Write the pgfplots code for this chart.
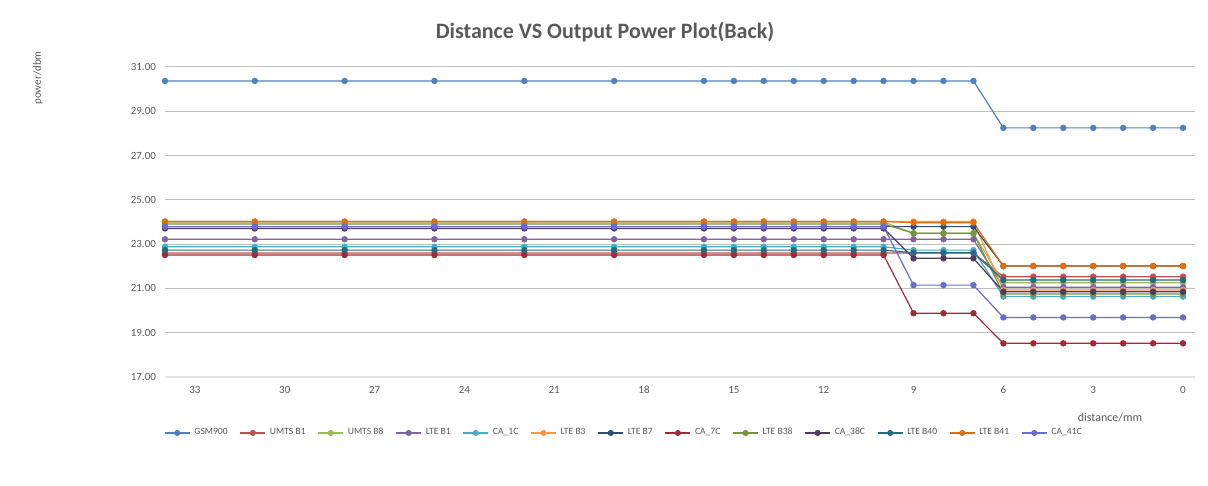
\documentclass[border=0pt]{standalone}
\usepackage{fontspec}
\setmainfont{Carlito}
\usepackage{pgfplots}
\usepackage{pgfplotstable}
\pgfplotsset{compat=1.18}

\definecolor{c1}{HTML}{4F81BD}
\definecolor{c2}{HTML}{C0504D}
\definecolor{c3}{HTML}{9BBB59}
\definecolor{c4}{HTML}{8064A2}
\definecolor{c5}{HTML}{4BACC6}
\definecolor{c6}{HTML}{F79646}
\definecolor{c7}{HTML}{2C4D75}
\definecolor{c8}{HTML}{A3283A}
\definecolor{c9}{HTML}{77933C}
\definecolor{c10}{HTML}{4D3B62}
\definecolor{c11}{HTML}{276A7C}
\definecolor{c12}{HTML}{E46C0A}
\definecolor{c13}{HTML}{6A6AD0}
\definecolor{txt}{HTML}{595959}
\definecolor{grid}{HTML}{E3E3E3}

% distance/mm vs output power/dBm, 13 bands
\pgfplotstableread{
x  s1    s2    s3    s4    s5    s6    s7    s8    s9    s10   s11   s12   s13
34 30.37 22.60 24.00 23.22 22.88 24.02 23.79 22.51 23.91 23.71 22.73 24.02 23.79
31 30.37 22.60 24.00 23.22 22.88 24.02 23.79 22.51 23.91 23.71 22.73 24.02 23.79
28 30.37 22.60 24.00 23.22 22.88 24.02 23.79 22.51 23.91 23.71 22.73 24.02 23.79
25 30.37 22.60 24.00 23.22 22.88 24.02 23.79 22.51 23.91 23.71 22.73 24.02 23.79
22 30.37 22.60 24.00 23.22 22.88 24.02 23.79 22.51 23.91 23.71 22.73 24.02 23.79
19 30.37 22.60 24.00 23.22 22.88 24.02 23.79 22.51 23.91 23.71 22.73 24.02 23.79
16 30.37 22.60 24.00 23.22 22.88 24.02 23.79 22.51 23.91 23.71 22.73 24.02 23.79
15 30.37 22.60 24.00 23.22 22.88 24.02 23.79 22.51 23.91 23.71 22.73 24.02 23.79
14 30.37 22.60 24.00 23.22 22.88 24.02 23.79 22.51 23.91 23.71 22.73 24.02 23.79
13 30.37 22.60 24.00 23.22 22.88 24.02 23.79 22.51 23.91 23.71 22.73 24.02 23.79
12 30.37 22.60 24.00 23.22 22.88 24.02 23.79 22.51 23.91 23.71 22.73 24.02 23.79
11 30.37 22.60 24.00 23.22 22.88 24.02 23.79 22.51 23.91 23.71 22.73 24.02 23.79
10 30.37 22.60 24.00 23.22 22.88 24.02 23.79 22.51 23.91 23.71 22.73 24.02 23.79
9  30.37 22.60 23.49 23.22 22.73 24.02 23.79 19.88 23.49 22.36 22.61 23.97 21.15
8  30.37 22.60 23.49 23.22 22.73 24.02 23.79 19.88 23.49 22.36 22.61 23.97 21.15
7  30.37 22.60 23.49 23.22 22.73 24.02 23.79 19.88 23.49 22.36 22.61 23.97 21.15
6  28.25 21.53 21.26 21.05 20.63 20.93 22.01 18.52 20.75 20.85 21.38 22.01 19.69
5  28.25 21.53 21.26 21.05 20.63 20.93 22.01 18.52 20.75 20.85 21.38 22.01 19.69
4  28.25 21.53 21.26 21.05 20.63 20.93 22.01 18.52 20.75 20.85 21.38 22.01 19.69
3  28.25 21.53 21.26 21.05 20.63 20.93 22.01 18.52 20.75 20.85 21.38 22.01 19.69
2  28.25 21.53 21.26 21.05 20.63 20.93 22.01 18.52 20.75 20.85 21.38 22.01 19.69
1  28.25 21.53 21.26 21.05 20.63 20.93 22.01 18.52 20.75 20.85 21.38 22.01 19.69
0  28.25 21.53 21.26 21.05 20.63 20.93 22.01 18.52 20.75 20.85 21.38 22.01 19.69
}\powerdata

\begin{document}
\begin{tikzpicture}
\path (-82.5pt,-54.5pt) rectangle (521.5pt,188.5pt);
\begin{axis}[
    at={(0,0)}, anchor=south west,
    scale only axis,
    width=515pt, height=155pt,
    x dir=reverse,
    xmin=-0.4, xmax=34,
    ymin=17, ymax=31,
    xtick={0,3,...,33},
    ytick={17,19,...,31},
    yticklabel style={/pgf/number format/fixed, /pgf/number format/fixed zerofill, /pgf/number format/precision=2, xshift=-1pt},
    /pgf/number format/assume math mode=true,
    xmajorgrids=false,
    ymajorgrids,
    major grid style={grid, line width=0.5pt},
    axis line style={draw=none},
    hide x axis=false,
    xtick style={draw=none},
    ytick style={draw=none},
    tick label style={font=\fontsize{5.5}{6}\selectfont, text=txt},
    xticklabel style={yshift=-1pt},
    legend style={at={(0.4466,-0.1806)}, anchor=center, draw=none,
        font=\fontsize{4.8}{6}\selectfont, text=txt,
        /tikz/every even column/.append style={column sep=4pt}},
    legend columns=13,
    legend image code/.code={%
        \draw[mark repeat=2, mark phase=2, mark size=1.2pt]
            plot coordinates {(0cm,0cm) (0.22cm,0cm) (0.44cm,0cm)};},
    every axis plot/.append style={line width=0.6pt, mark=*, mark size=1.3pt},
]
\draw[grid, line width=0.6pt] (axis cs:34,17) -- (axis cs:-0.4,17);
\addplot[color=c1, mark options={fill=c1}] table[x=x, y=s1] {\powerdata};
\addplot[color=c2, mark options={fill=c2}] table[x=x, y=s2] {\powerdata};
\addplot[color=c3, mark options={fill=c3}] table[x=x, y=s3] {\powerdata};
\addplot[color=c4, mark options={fill=c4}] table[x=x, y=s4] {\powerdata};
\addplot[color=c5, mark options={fill=c5}] table[x=x, y=s5] {\powerdata};
\addplot[color=c6, mark options={fill=c6}] table[x=x, y=s6] {\powerdata};
\addplot[color=c7, mark options={fill=c7}] table[x=x, y=s7] {\powerdata};
\addplot[color=c8, mark options={fill=c8}] table[x=x, y=s8] {\powerdata};
\addplot[color=c9, mark options={fill=c9}] table[x=x, y=s9] {\powerdata};
\addplot[color=c10, mark options={fill=c10}] table[x=x, y=s10] {\powerdata};
\addplot[color=c11, mark options={fill=c11}] table[x=x, y=s11] {\powerdata};
\addplot[color=c12, mark options={fill=c12}] table[x=x, y=s12] {\powerdata};
\addplot[color=c13, mark options={fill=c13}] table[x=x, y=s13] {\powerdata};
\legend{GSM900, UMTS B1, UMTS B8, LTE B1, CA\_1C, LTE B3, LTE B7, CA\_7C, LTE B38, CA\_38C, LTE B40, LTE B41, CA\_41C}
\end{axis}
\node[font=\fontsize{11}{13}\selectfont\bfseries, text=txt] at (220pt,172.5pt) {Distance VS Output Power Plot(Back)};
\node[font=\fontsize{5.5}{6}\selectfont, text=txt, rotate=90] at (-63.5pt,149.5pt) {power/dbm};
\node[font=\fontsize{6}{7}\selectfont, text=txt] at (472.5pt,-20.5pt) {distance/mm};
\end{tikzpicture}
\end{document}
